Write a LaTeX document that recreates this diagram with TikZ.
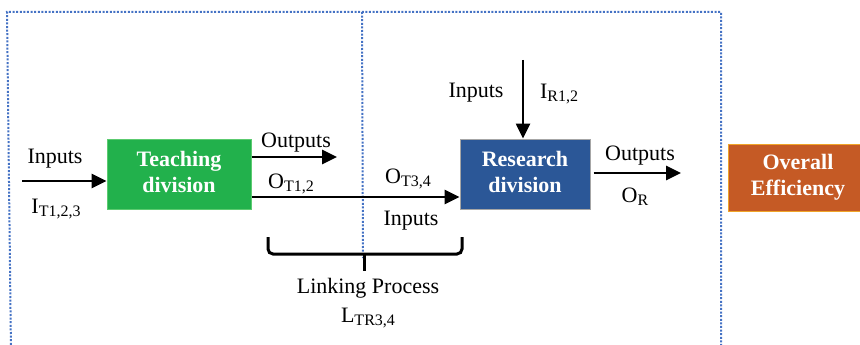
\documentclass[tikz,border=0pt]{standalone}
\usepackage{fontspec}
\setmainfont{Liberation Serif}
\usetikzlibrary{arrows.meta}
\newcommand{\mysub}[1]{\raisebox{-3pt}{\fontsize{16}{16}\selectfont #1}}
\newcommand{\boxtext}[2]{\raisebox{4pt}{\begin{tabular}{@{}c@{}}#1\\#2\end{tabular}}}
\definecolor{dotblue}{HTML}{4472C4}
\definecolor{teachgreen}{HTML}{22B14C}
\definecolor{teachborder}{HTML}{5CCB70}
\definecolor{resblue}{HTML}{2B5797}
\definecolor{resborder}{HTML}{A6A6A6}
\definecolor{efforange}{HTML}{C55A25}
\definecolor{effborder}{HTML}{F0A428}
\begin{document}
\begin{tikzpicture}[x=1pt,y=-1pt,
  font=\fontsize{22}{26}\selectfont,
  lbl/.style={anchor=base, inner sep=0pt},
  flow/.style={line width=2.6pt, -{Triangle[length=15pt,width=14pt]}},
  dots/.style={dotblue, line width=2pt, dash pattern=on 2pt off 1.6pt},
  division/.style={draw, line width=1pt, text=white, inner sep=0pt,
    font=\fontsize{22}{26}\selectfont\bfseries}]
\useasboundingbox (0,0) rectangle (860,345);
\clip (0,0) rectangle (860,345);

% dotted frame
\draw[dots] (11,352) -- (7,12) -- (721,12) -- (721,352);
\draw[dots] (362,12) -- (363,258);

% boxes
\node[division, fill=teachgreen, draw=teachborder, minimum width=144pt, minimum height=70pt] (teach) at (179,174) {\boxtext{Teaching}{division}};
\node[division, fill=resblue, draw=resborder, minimum width=130pt, minimum height=70pt] (res) at (525,174) {\boxtext{Research}{division}};
\node[division, fill=efforange, draw=effborder, minimum width=140pt, minimum height=67pt] (eff) at (798,177.5) {\boxtext{Overall}{Efficiency}};

% connectors
\coordinate (inL) at (22,181);
\draw[flow] (inL) -- (inL -| teach.west);
\coordinate (tout) at (337,157);
\draw[flow] (tout -| teach.east) -- (tout);
\coordinate (lnk) at (251,197);
\draw[flow] (lnk -| teach.east) -- (lnk -| res.west);
\coordinate (rin) at (523,60);
\draw[flow] (rin) -- (rin |- res.north);
\coordinate (rout) at (681,173);
\draw[flow, shorten <=3pt] (rout -| res.east) -- (rout);

% brace
\draw[line width=3pt, rounded corners=5pt] (268,237) -- (268,254) -- (462,254) -- (462,237);
\coordinate (brtip) at (364,271);
\draw[line width=3pt] (brtip |- 0,254) -- (brtip);

% labels
\node[lbl] (l1) at (55,163) {Inputs};
\node[lbl] (l2) at (56,213) {I\mysub{T1,2,3}};
\node[lbl] (l3) at (296,147) {Outputs};
\node[lbl] (l4) at (291,188) {O\mysub{T1,2}};
\node[lbl] (l5) at (408,183) {O\mysub{T3,4}};
\node[lbl] (l6) at (411,225) {Inputs};
\node[lbl] (l7) at (368,293) {Linking Process};
\node[lbl] (l8) at (368,322) {L\mysub{TR3,4}};
\node[lbl] (l9) at (476,97) {Inputs};
\node[lbl] (l10) at (559,99) {I\mysub{R1,2}};
\node[lbl] (l11) at (640,160) {Outputs};
\node[lbl] (l12) at (635,202) {O\mysub{R}};
\end{tikzpicture}
\end{document}
